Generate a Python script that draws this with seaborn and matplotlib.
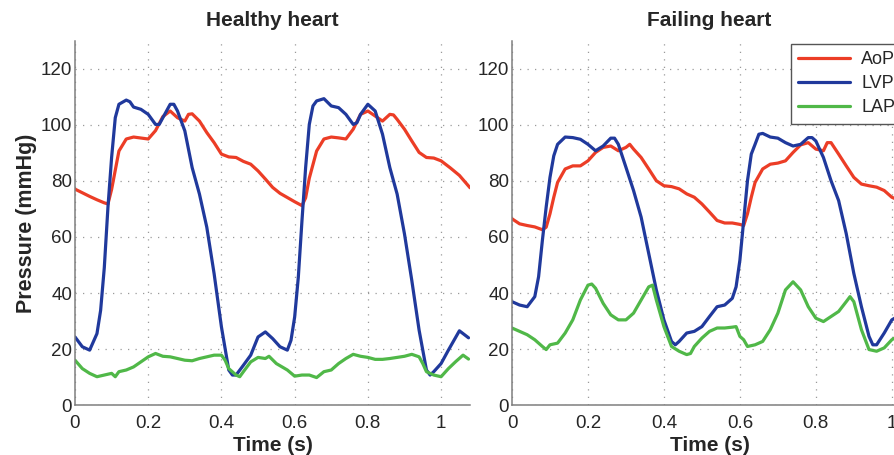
import numpy as np
import pandas as pd
import matplotlib
matplotlib.use("Agg")
import matplotlib.pyplot as plt
from matplotlib.ticker import FuncFormatter
import seaborn as sns

# ---------------- data ----------------
series_names = ["AoP", "LVP", "LAP"]
series_colors = ["#ec3d26", "#20399c", "#50b848"]
panel_titles = ["Healthy heart", "Failing heart"]

# Healthy heart
h_aop_t = [0, 0.02, 0.04, 0.06, 0.08, 0.09, 0.10, 0.12, 0.14, 0.16, 0.20, 0.22, 0.24, 0.26, 0.28, 0.30, 0.31, 0.32,
           0.34, 0.36, 0.38, 0.40, 0.42, 0.44, 0.46, 0.48, 0.50, 0.52, 0.54, 0.56, 0.58, 0.60, 0.62, 0.63, 0.64, 0.66,
           0.68, 0.70, 0.72, 0.74, 0.76, 0.78, 0.80, 0.82, 0.84, 0.86, 0.87, 0.88, 0.90, 0.92, 0.94, 0.96, 0.98, 1.00,
           1.025, 1.05, 1.079]
h_aop_p = [77.1, 75.8, 74.5, 73.3, 72.2, 71.8, 77.0, 90.7, 95.0, 95.7, 95.0, 98.0, 103.0, 105.0, 102.6, 101.4, 103.8, 104.0,
           101.4, 97.3, 93.7, 89.6, 88.6, 88.4, 87.0, 86.0, 83.6, 80.7, 77.7, 75.6, 74.1, 72.6, 71.2, 74.0, 81.0, 90.7,
           95.0, 95.7, 95.4, 95.0, 98.5, 103.8, 105.0, 103.2, 101.4, 103.8, 103.6, 102.0, 98.5, 94.3, 90.2, 88.4, 88.2, 87.2,
           84.7, 82.0, 77.6]
h_lvp_t = [0, 0.02, 0.04, 0.06, 0.07, 0.08, 0.09, 0.10, 0.11, 0.12, 0.14, 0.15, 0.16, 0.18, 0.20, 0.22, 0.23, 0.24,
           0.26, 0.27, 0.28, 0.30, 0.32, 0.34, 0.36, 0.38, 0.40, 0.42, 0.43, 0.44, 0.46, 0.48, 0.50, 0.52, 0.54, 0.56,
           0.58, 0.59, 0.60, 0.61, 0.62, 0.63, 0.64, 0.65, 0.66, 0.68, 0.70, 0.72, 0.74, 0.76, 0.77, 0.78, 0.80, 0.82,
           0.84, 0.86, 0.88, 0.90, 0.92, 0.94, 0.96, 0.97, 0.98, 1.00, 1.02, 1.05, 1.075]
h_lvp_p = [24.3, 20.8, 19.6, 25.5, 33.8, 49.0, 70.6, 88.4, 102.6, 107.4, 108.9, 108.3, 106.4, 105.6, 103.8, 100.2, 100.2, 102.6,
           107.4, 107.4, 105.0, 97.9, 84.8, 75.3, 63.5, 46.9, 27.9, 12.5, 10.7, 10.7, 14.2, 17.8, 24.3, 26.1, 23.7, 20.8,
           19.6, 23.1, 31.4, 45.6, 65.8, 84.8, 100.2, 106.8, 108.6, 109.4, 106.8, 106.2, 103.8, 100.2, 100.8, 103.8, 107.4, 105.0,
           96.7, 84.8, 75.3, 61.1, 44.5, 26.7, 12.5, 10.7, 11.9, 14.8, 19.6, 26.5, 24.0]
h_lap_t = [0, 0.02, 0.04, 0.06, 0.08, 0.10, 0.11, 0.12, 0.14, 0.16, 0.18, 0.20, 0.22, 0.24, 0.26, 0.28, 0.30, 0.32,
           0.34, 0.36, 0.38, 0.40, 0.41, 0.42, 0.44, 0.45, 0.46, 0.48, 0.50, 0.52, 0.53, 0.55, 0.58, 0.60, 0.62, 0.64,
           0.66, 0.68, 0.70, 0.72, 0.74, 0.76, 0.78, 0.80, 0.82, 0.84, 0.86, 0.88, 0.90, 0.92, 0.94, 0.95, 0.96, 0.98,
           1.00, 1.02, 1.04, 1.06, 1.075]
h_lap_p = [16.0, 13.0, 11.3, 10.1, 10.7, 11.3, 10.1, 11.9, 12.5, 13.6, 15.4, 17.2, 18.4, 17.4, 17.2, 16.6, 16.0, 15.8,
           16.6, 17.2, 17.8, 17.8, 16.0, 13.0, 10.7, 10.1, 11.9, 15.4, 17.0, 16.6, 17.4, 14.8, 12.5, 10.3, 10.7, 10.7,
           9.8, 11.9, 12.5, 14.8, 16.6, 18.1, 17.4, 17.0, 16.3, 16.3, 16.6, 17.0, 17.4, 18.1, 17.2, 14.8, 11.9, 10.7,
           10.1, 13.0, 15.5, 17.8, 16.4]

# Failing heart
f_aop_t = [0, 0.02, 0.04, 0.06, 0.08, 0.09, 0.10, 0.11, 0.12, 0.14, 0.16, 0.18, 0.20, 0.22, 0.24, 0.26, 0.28, 0.30,
           0.31, 0.32, 0.34, 0.36, 0.38, 0.40, 0.42, 0.44, 0.46, 0.48, 0.50, 0.52, 0.54, 0.56, 0.58, 0.60, 0.61, 0.62,
           0.63, 0.64, 0.66, 0.68, 0.70, 0.72, 0.74, 0.76, 0.78, 0.80, 0.82, 0.83, 0.84, 0.86, 0.88, 0.90, 0.92, 0.94,
           0.96, 0.98, 1.00, 1.02]
f_aop_p = [66.5, 64.7, 64.1, 63.6, 62.6, 63.5, 68.3, 74.2, 79.5, 84.3, 85.4, 85.4, 87.2, 90.2, 92.0, 92.5, 90.8, 92.0,
           93.1, 91.4, 88.4, 84.3, 80.1, 78.3, 78.0, 77.2, 75.4, 74.2, 71.8, 68.9, 65.9, 65.0, 65.0, 64.5, 64.1, 68.3,
           74.2, 79.5, 84.3, 86.0, 86.4, 87.2, 90.2, 92.9, 93.7, 91.4, 90.8, 93.7, 93.7, 89.6, 85.4, 81.3, 78.9, 78.3,
           77.8, 76.6, 74.2, 73.0]
f_lvp_t = [0, 0.02, 0.04, 0.06, 0.07, 0.08, 0.09, 0.10, 0.11, 0.12, 0.14, 0.16, 0.18, 0.20, 0.22, 0.24, 0.26, 0.27,
           0.28, 0.30, 0.32, 0.34, 0.36, 0.38, 0.40, 0.42, 0.43, 0.44, 0.46, 0.48, 0.50, 0.52, 0.54, 0.56, 0.58, 0.59,
           0.60, 0.61, 0.62, 0.63, 0.64, 0.65, 0.66, 0.68, 0.70, 0.72, 0.74, 0.76, 0.78, 0.79, 0.80, 0.82, 0.84, 0.86,
           0.88, 0.90, 0.92, 0.94, 0.95, 0.96, 0.98, 1.00, 1.02]
f_lvp_p = [36.9, 35.7, 35.1, 38.7, 45.8, 58.8, 70.7, 81.3, 89.0, 93.1, 95.7, 95.5, 94.9, 93.1, 90.8, 92.5, 95.3, 95.3,
           93.1, 84.9, 76.6, 67.1, 54.1, 41.1, 30.4, 22.7, 21.5, 22.7, 25.7, 26.3, 28.0, 31.6, 35.1, 35.7, 38.1, 42.2,
           51.7, 65.9, 80.1, 89.6, 93.1, 96.7, 97.0, 95.7, 95.3, 93.7, 92.5, 93.1, 95.5, 95.5, 94.3, 88.4, 80.1, 73.0,
           61.2, 47.0, 35.1, 24.5, 21.5, 21.5, 25.7, 30.4, 32.0]
f_lap_t = [0, 0.02, 0.04, 0.06, 0.07, 0.08, 0.09, 0.10, 0.12, 0.14, 0.16, 0.18, 0.20, 0.21, 0.22, 0.24, 0.26, 0.28,
           0.30, 0.32, 0.34, 0.36, 0.37, 0.38, 0.40, 0.42, 0.44, 0.46, 0.47, 0.48, 0.50, 0.52, 0.54, 0.56, 0.58, 0.59,
           0.60, 0.61, 0.62, 0.64, 0.66, 0.68, 0.70, 0.72, 0.74, 0.76, 0.78, 0.80, 0.82, 0.84, 0.86, 0.88, 0.89, 0.90,
           0.92, 0.94, 0.96, 0.98, 1.00, 1.02]
f_lap_p = [27.5, 26.3, 25.1, 23.3, 22.1, 20.9, 19.8, 21.5, 22.1, 25.7, 30.4, 37.5, 42.8, 43.2, 41.7, 36.3, 32.2, 30.4,
           30.4, 32.8, 37.5, 42.2, 42.8, 37.5, 28.0, 20.9, 19.2, 18.0, 18.4, 20.9, 23.9, 26.3, 27.5, 27.5, 27.8, 28.0,
           24.5, 23.3, 20.9, 21.5, 22.7, 26.9, 32.8, 41.1, 44.0, 41.1, 35.1, 31.0, 29.8, 31.6, 33.4, 36.9, 38.7, 36.9,
           26.9, 19.8, 19.2, 20.4, 23.3, 25.0]

x_ticks = [0, 0.2, 0.4, 0.6, 0.8, 1.0]
y_ticks = [0, 20, 40, 60, 80, 100, 120]
x_label = "Time (s)"
y_label = "Pressure (mmHg)"


def long_frame(parts):
    frames = []
    for name, t, p in parts:
        frames.append(pd.DataFrame({"t": t, "p": p, "series": name}))
    return pd.concat(frames, ignore_index=True)


healthy = long_frame([("AoP", h_aop_t, h_aop_p), ("LVP", h_lvp_t, h_lvp_p), ("LAP", h_lap_t, h_lap_p)])
failing = long_frame([("AoP", f_aop_t, f_aop_p), ("LVP", f_lvp_t, f_lvp_p), ("LAP", f_lap_t, f_lap_p)])

# ---------------- style ----------------
sns.set_style("white")
plt.rcParams["font.family"] = ["Liberation Sans", "DejaVu Sans"]

W, H = 894, 455
fig = plt.figure(figsize=(W / 100, H / 100), dpi=100)

ax1 = fig.add_axes([75 / W, 50 / H, 395 / W, 364 / H])
ax2 = fig.add_axes([512 / W, 50 / H, 395 / W, 364 / H])

palette = dict(zip(series_names, series_colors))
fmt = FuncFormatter(lambda v, pos: f"{v:g}")
text_color = "#262626"

for ax, df, title, xmax in [(ax1, healthy, panel_titles[0], 1.079), (ax2, failing, panel_titles[1], 1.04)]:
    sns.lineplot(data=df, x="t", y="p", hue="series", hue_order=series_names, palette=palette,
                 linewidth=2.3, ax=ax, sort=False, estimator=None, legend=(ax is ax2))
    ax.set_xlim(0, xmax)
    ax.set_ylim(0, 130)
    ax.set_xticks(x_ticks)
    ax.set_yticks(y_ticks)
    ax.xaxis.set_major_formatter(fmt)
    ax.yaxis.set_major_formatter(fmt)
    ax.grid(True, linestyle=(0, (1, 5)), color="#9a9a9a", linewidth=0.9)
    for s in ["top", "right"]:
        ax.spines[s].set_visible(False)
    for s in ["left", "bottom"]:
        ax.spines[s].set_color("#7f7f7f")
        ax.spines[s].set_linewidth(1.1)
    ax.tick_params(axis="both", labelsize=13.5, colors="#7f7f7f", labelcolor=text_color,
                   direction="in", length=3)
    ax.tick_params(axis="x", pad=7)
    ax.tick_params(axis="y", pad=2)
    ax.set_title(title, fontsize=15, fontweight="bold", color=text_color, pad=11)
    ax.set_xlabel(x_label, fontsize=15, fontweight="bold", color=text_color, labelpad=3)
    ax.set_ylabel("")

ax1.set_ylabel(y_label, fontsize=15.5, fontweight="bold", color=text_color, labelpad=3)

leg = ax2.legend(loc="upper left", bbox_to_anchor=(276 / 395, 1.0), fontsize=13, handlelength=2.9,
                 frameon=True, fancybox=False, framealpha=1, edgecolor="#555555",
                 borderpad=0.4, labelspacing=0.4, handletextpad=0.6, borderaxespad=0.15)
leg.get_frame().set_linewidth(1.0)
for line in leg.get_lines():
    line.set_linewidth(2.3)

fig.savefig("out.png", dpi=100)
